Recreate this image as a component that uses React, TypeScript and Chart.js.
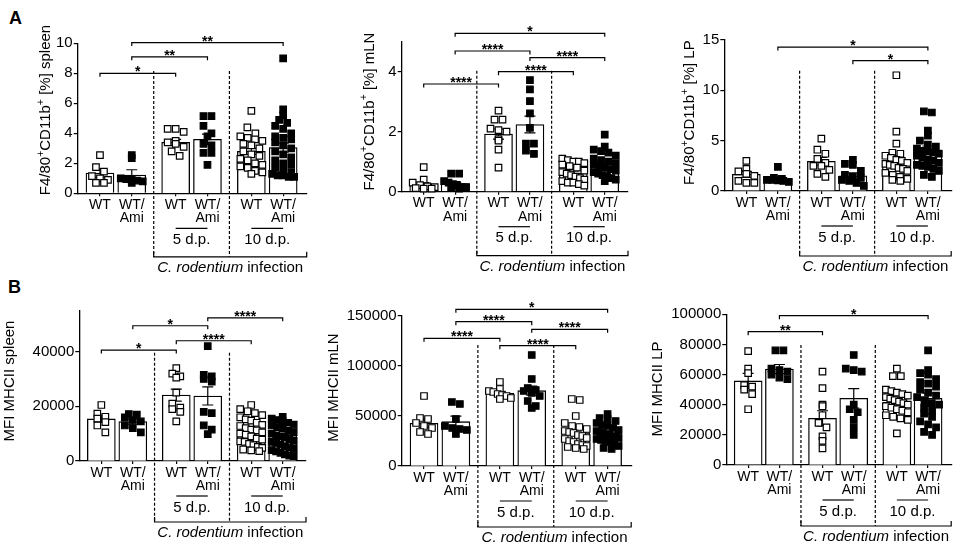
import { useEffect, useRef } from 'react'
import { Chart, registerables } from 'chart.js'

Chart.register(...registerables)

const FONT = '"Liberation Sans", Arial, Helvetica, sans-serif'

// groups: uninfected, 5 d.p., 10 d.p.  (WT open squares, WT/Ami filled)
const categories = ['WT', 'WT/Ami', 'WT', 'WT/Ami', 'WT', 'WT/Ami']
const tickLabels = [['WT'], ['WT/', 'Ami'], ['WT'], ['WT/', 'Ami'], ['WT'], ['WT/', 'Ami']]
const timeLabels = ['5 d.p.', '10 d.p.']
const infectionItalic = 'C. rodentium'
const infectionRest = ' infection'

// A — F4/80+CD11b+ [%]
const a1Points = [
  [2.55, 1.75, 1.45, 1.15, 1.0, 0.9, 0.7, 0.7],
  [2.55, 2.35, 1.0, 0.95, 0.9, 0.85, 0.8, 0.7],
  [4.3, 4.3, 4.1, 3.5, 3.4, 3.3, 3.1, 2.8, 2.5],
  [5.15, 5.15, 4.5, 4.0, 3.8, 3.3, 3.2, 2.7, 2.7, 1.9],
  [5.5, 4.4, 4.0, 3.8, 3.7, 3.6, 3.5, 3.3, 3.2, 3.0, 2.8, 2.6, 2.5, 2.3, 2.2, 2.0, 1.9, 1.8, 1.7, 1.5, 1.4, 1.3],
  [9.0, 5.6, 5.2, 4.9, 4.7, 4.5, 4.3, 4.0, 3.8, 3.7, 3.6, 3.4, 3.2, 3.0, 2.8, 2.6, 2.4, 2.2, 2.0, 1.9, 1.7, 1.5, 1.4, 1.3, 1.2, 1.2, 1.1, 1.1],
]
const a1Means = [1.35, 1.22, 3.4, 3.6, 2.8, 3.05]
const a1Sem = [0.28, 0.35, 0.2, 0.35, 0.2, 0.3]
const a1Ticks = [0, 2, 4, 6, 8, 10]
const a1Sig = [[0, 2, 8.0, '*'], [1, 3, 9.1, '**'], [1, 5, 10.05, '**']]

const a2Points = [
  [0.82, 0.4, 0.3, 0.22, 0.18, 0.15, 0.12, 0.1, 0.1],
  [0.6, 0.6, 0.35, 0.3, 0.25, 0.2, 0.15, 0.15, 0.12, 0.1],
  [2.7, 2.4, 2.4, 2.1, 2.05, 2.0, 1.75, 1.7, 1.4, 0.8],
  [3.72, 3.41, 3.02, 2.61, 2.13, 1.6, 1.6, 1.37, 1.26],
  [1.1, 1.05, 1.0, 1.0, 0.95, 0.9, 0.85, 0.8, 0.7, 0.65, 0.6, 0.55, 0.5, 0.45, 0.4, 0.35, 0.3, 0.3, 0.25, 0.2],
  [1.9, 1.5, 1.4, 1.35, 1.3, 1.2, 1.1, 1.05, 1.0, 0.95, 0.9, 0.85, 0.8, 0.75, 0.7, 0.65, 0.6, 0.55, 0.5, 0.45, 0.4, 0.35],
]
const a2Means = [0.22, 0.27, 1.92, 2.24, 0.62, 0.92]
const a2Sem = [0.08, 0.07, 0.17, 0.28, 0.07, 0.08]
const a2Ticks = [0, 2, 4]
const a2Sig = [[0, 2, 3.59, '****'], [2, 4, 4.0, '****'], [1, 3, 4.69, '****'], [3, 5, 4.47, '****'], [1, 5, 5.28, '*']]

const a3Points = [
  [3.0, 2.2, 1.95, 1.7, 1.5, 1.0, 0.8, 0.8],
  [2.4, 1.3, 1.2, 1.1, 1.1, 1.05, 1.0, 0.9],
  [5.2, 4.1, 3.7, 3.2, 2.8, 2.5, 2.5, 2.1, 1.7, 1.4],
  [3.1, 2.7, 2.6, 2.0, 1.6, 1.4, 1.3, 1.1, 1.0, 0.8, 0.5],
  [11.5, 5.9, 4.7, 3.8, 3.7, 3.5, 3.3, 3.1, 3.0, 2.8, 2.7, 2.6, 2.5, 2.3, 2.2, 2.0, 1.8, 1.6, 1.4, 1.2, 1.1, 1.0],
  [7.9, 7.8, 6.0, 5.5, 5.0, 4.6, 4.4, 4.2, 4.0, 3.9, 3.8, 3.7, 3.5, 3.3, 3.1, 3.0, 2.8, 2.6, 2.5, 2.4, 2.2, 2.0, 1.6, 1.4],
]
const a3Means = [1.65, 1.15, 2.95, 1.5, 3.0, 4.1]
const a3Sem = [0.3, 0.17, 0.38, 0.3, 0.5, 0.37]
const a3Ticks = [0, 5, 10, 15]
const a3Sig = [[1, 5, 14.3, '*'], [3, 5, 12.95, '*']]

// B — MFI MHCII
const b1Points = [
  [20500, 17300, 16200, 15500, 14200, 13000, 10500],
  [17200, 17000, 16000, 15000, 14500, 13000, 12000, 10500],
  [34000, 32000, 31000, 30500, 25000, 21000, 19500, 19000, 18000, 14500],
  [42000, 31500, 31000, 30000, 29000, 18000, 17500, 13000, 11500, 9800],
  [20500, 19000, 18200, 17500, 16800, 16000, 15200, 14800, 14000, 13200, 12800, 12000, 11500, 11200, 10500, 10000, 9600, 9000, 8200, 7800, 7200, 7000, 6300, 5800, 5200, 4800, 4200, 3900, 3600],
  [16200, 15500, 15000, 14600, 14000, 13300, 13000, 12400, 12000, 11000, 10600, 10000, 9400, 9000, 8600, 8000, 7400, 7000, 6600, 6000, 5400, 5000, 4400, 4000, 3500, 3000, 2400, 2000, 1800],
]
const b1Means = [15400, 14400, 24100, 23800, 10700, 9300]
const b1Sem = [1300, 900, 2200, 3300, 900, 800]
const b1Ticks = [0, 20000, 40000]
const b1Sig = [[0, 2, 40600, '*'], [1, 3, 49500, '*'], [2, 4, 44000, '****'], [3, 5, 52400, '****']]

const b2Points = [
  [70000, 48000, 47000, 43000, 40000, 38000, 34000, 32000],
  [64000, 62000, 47000, 40000, 38000, 37000, 36000, 32000],
  [84000, 77000, 75000, 74000, 72000, 71000, 70000, 68000, 67000],
  [111000, 87000, 78000, 76000, 75000, 73000, 70000, 65000, 60000, 58000],
  [67000, 66000, 50000, 43000, 40000, 39000, 37000, 35000, 34000, 33000, 31000, 30000, 28000, 27000, 25000, 24000, 22000, 21000, 20000, 19000, 18000, 17000],
  [52000, 48000, 47000, 45000, 43000, 41000, 40000, 38000, 36000, 35000, 34000, 33000, 32000, 31000, 30000, 29000, 28000, 27000, 26000, 25000, 24000, 22000, 20000, 18000, 17000],
]
const b2Means = [42700, 44300, 72700, 75300, 33300, 32700]
const b2Sem = [4000, 5500, 2000, 4500, 3000, 2000]
const b2Ticks = [0, 50000, 100000, 150000]
const b2Sig = [[0, 2, 127700, '****'], [2, 4, 120300, '****'], [1, 3, 144300, '****'], [3, 5, 136700, '****'], [1, 5, 156700, '*']]

const b3Points = [
  [75500, 64000, 61000, 53000, 52000, 50000, 47000, 37000],
  [76000, 76000, 64000, 63000, 62000, 60000, 58000, 57000],
  [62000, 51000, 40000, 39000, 33000, 28000, 25000, 19000, 16000, 11000],
  [73000, 64000, 63000, 62000, 40000, 37000, 35000, 30000, 25000, 20000],
  [64000, 59000, 59000, 50000, 49000, 48000, 47000, 46000, 45000, 44000, 43000, 42000, 41000, 40000, 39000, 38000, 37000, 36000, 35000, 33000, 32000, 31000, 30000, 21000],
  [76000, 63000, 61000, 60000, 57000, 55000, 54000, 52000, 50000, 48000, 46000, 45000, 43000, 41000, 40000, 38000, 36000, 34000, 32000, 29000, 27000, 25000, 22000, 20000],
]
const b3Means = [55800, 63700, 31000, 44200, 41600, 44200]
const b3Sem = [5000, 3000, 5000, 6500, 2500, 3500]
const b3Ticks = [0, 20000, 40000, 60000, 80000, 100000]
const b3Sig = [[0, 2, 88500, '**'], [1, 5, 99100, '*']]

// bar slots: pairs with a wider gap between the three groups
const GROUP_GAP = 0.38
const positions = categories.map((_, i) => i + Math.floor(i / 2) * GROUP_GAP)
const X_MIN = -0.7
const X_MAX = 6.5
const Y_W = 62
const X_H = 40
const MARK = 8

// box = canvas rect, area = plot rect, titleAt = [baseline x, centre y]  (page px)
const panels = [
  { title: 'F4/80^+CD11b^+ [%] spleen', points: a1Points, means: a1Means, sem: a1Sem, ticks: a1Ticks, yMax: 10, sig: a1Sig, dashTop: 8.15,
    box: [0, 0, 318, 275], area: [77.7, 43.3, 306.7, 193.3], titleAt: [50.1, 110], gap: 63.5 },
  { title: 'F4/80^+CD11b^+ [%] mLN', points: a2Points, means: a2Means, sem: a2Sem, ticks: a2Ticks, yMax: 5, sig: a2Sig, dashTop: 4.03,
    box: [318, 0, 319, 275], area: [401.7, 41.7, 628, 191.7], titleAt: [373.5, 111.5], gap: 64 },
  { title: 'F4/80^+CD11b^+ [%] LP', points: a3Points, means: a3Means, sem: a3Sem, ticks: a3Ticks, yMax: 15, sig: a3Sig, dashTop: 11.95,
    box: [637, 0, 320, 275], area: [724.3, 40, 952, 191], titleAt: [693.8, 112.6], gap: 65 },
  { title: 'MFI MHCII spleen', points: b1Points, means: b1Means, sem: b1Sem, ticks: b1Ticks, yMax: 55000, sig: b1Sig, dashTop: 39600,
    box: [0, 275, 318, 273], area: [79.3, 310.7, 306, 461], titleAt: [13.5, 381], gap: 61 },
  { title: 'MFI MHCII mLN', points: b2Points, means: b2Means, sem: b2Sem, ticks: b2Ticks, yMax: 150000, sig: b2Sig, dashTop: 121000,
    box: [318, 275, 319, 273], area: [401.7, 316, 631.7, 466], titleAt: [338.3, 387.5], gap: 61 },
  { title: 'MFI MHCII LP', points: b3Points, means: b3Means, sem: b3Sem, ticks: b3Ticks, yMax: 100000, sig: b3Sig, dashTop: 79600,
    box: [637, 275, 320, 273], area: [726.3, 314.3, 952, 465], titleAt: [662, 389], gap: 61 },
]

// Prism-like scatter: points in the same row spread side by side
function swarm(vals: number[], center: number, xPx: number, yPx: number) {
  const rows = new Map<number, number[]>()
  vals.forEach(v => {
    const k = Math.round((v * yPx) / MARK)
    if (!rows.has(k)) rows.set(k, [])
    rows.get(k)!.push(v)
  })
  const out: { x: number; y: number }[] = []
  rows.forEach(row => {
    const n = row.length
    const step = n > 1 ? Math.min(MARK, 22 / (n - 1)) : 0
    row.forEach((v, j) => out.push({ x: center + ((j - (n - 1) / 2) * step) / xPx, y: v }))
  })
  return out
}

function drawTitle(ctx: CanvasRenderingContext2D, text: string, bx: number, cy: number) {
  const size = 15
  const parts = text.split('^')
  const segs = [{ t: parts[0], sup: false }]
  parts.slice(1).forEach(s => {
    segs.push({ t: s[0], sup: true })
    if (s.length > 1) segs.push({ t: s.slice(1), sup: false })
  })
  const fontOf = (sup: boolean) => `${sup ? size * 0.7 : size}px ${FONT}`
  let total = 0
  segs.forEach(s => { ctx.font = fontOf(s.sup); total += ctx.measureText(s.t).width })
  ctx.save()
  ctx.translate(bx, cy)
  ctx.rotate(-Math.PI / 2)
  ctx.textAlign = 'left'
  ctx.textBaseline = 'alphabetic'
  let x = -total / 2
  segs.forEach(s => {
    ctx.font = fontOf(s.sup)
    ctx.fillText(s.t, x, s.sup ? -size * 0.42 : 0)
    x += ctx.measureText(s.t).width
  })
  ctx.restore()
}

function Panel({ p }: { p: any }) {
  const ref = useRef<HTMLCanvasElement>(null)

  useEffect(() => {
    if (!ref.current) return
    const existing = Chart.getChart(ref.current)
    if (existing) existing.destroy()

    const [bx, by, bw, bh] = p.box
    const [L, T, R, B] = p.area
    const xPx = (R - L) / (X_MAX - X_MIN)
    const yPx = (B - T) / p.yMax
    const open: any[] = []
    const filled: any[] = []
    p.points.forEach((vals: number[], i: number) => {
      const pts = swarm(vals, positions[i], xPx, yPx)
      if (categories[i].includes('Ami')) filled.push(...pts)
      else open.push(...pts)
    })

    const deco = {
      id: 'deco',
      afterDatasetDraw(chart: any, args: any) {
        if (args.index !== 0) return
        const { ctx, scales: { x, y } } = chart
        ctx.save()
        ctx.strokeStyle = '#000'
        ctx.lineWidth = 1.2
        p.means.forEach((m: number, i: number) => {
          const cx = x.getPixelForValue(positions[i])
          const t = y.getPixelForValue(m + p.sem[i])
          const b = y.getPixelForValue(Math.max(0, m - p.sem[i]))
          ctx.beginPath()
          ctx.moveTo(cx, t); ctx.lineTo(cx, b)
          ctx.moveTo(cx - 5.5, t); ctx.lineTo(cx + 5.5, t)
          ctx.moveTo(cx - 5.5, b); ctx.lineTo(cx + 5.5, b)
          ctx.stroke()
        })
        ctx.restore()
      },
      afterDraw(chart: any) {
        const { ctx, chartArea: ca, scales: { x, y } } = chart
        ctx.save()
        ctx.strokeStyle = '#000'
        ctx.fillStyle = '#000'
        ctx.lineWidth = 1.2

        // dashed separators between groups
        const sep = [(positions[1] + positions[2]) / 2, (positions[3] + positions[4]) / 2].map(v => x.getPixelForValue(v))
        const brY = ca.bottom + p.gap
        ctx.setLineDash([3, 2])
        sep.forEach(sx => {
          ctx.beginPath()
          ctx.moveTo(sx, y.getPixelForValue(p.dashTop))
          ctx.lineTo(sx, brY)
          ctx.stroke()
        })
        ctx.setLineDash([])

        // infection bracket
        ctx.beginPath()
        ctx.moveTo(sep[0], brY - 5)
        ctx.lineTo(sep[0], brY)
        ctx.lineTo(ca.right, brY)
        ctx.lineTo(ca.right, brY - 5)
        ctx.stroke()
        ctx.textBaseline = 'alphabetic'
        ctx.textAlign = 'left'
        ctx.font = `italic 15px ${FONT}`
        const w1 = ctx.measureText(infectionItalic).width
        ctx.font = `15px ${FONT}`
        const w2 = ctx.measureText(infectionRest).width
        const tx = (sep[0] + ca.right) / 2 - (w1 + w2) / 2
        ctx.font = `italic 15px ${FONT}`
        ctx.fillText(infectionItalic, tx, brY + 15)
        ctx.font = `15px ${FONT}`
        ctx.fillText(infectionRest, tx + w1, brY + 15)

        // time point labels
        ctx.textAlign = 'center'
        timeLabels.forEach((lab, k) => {
          const x1 = x.getPixelForValue(positions[2 + 2 * k])
          const x2 = x.getPixelForValue(positions[3 + 2 * k])
          const ly = ca.bottom + 35
          ctx.beginPath()
          ctx.moveTo(x1, ly)
          ctx.lineTo(x2, ly)
          ctx.stroke()
          ctx.fillText(lab, (x1 + x2) / 2, ly + 15.5)
        })

        // significance brackets
        ctx.font = `bold 14px ${FONT}`
        p.sig.forEach(([a, b, lvl, lab]: any) => {
          const x1 = x.getPixelForValue(positions[a])
          const x2 = x.getPixelForValue(positions[b])
          const yy = y.getPixelForValue(lvl)
          ctx.beginPath()
          ctx.moveTo(x1, yy + 3.5)
          ctx.lineTo(x1, yy)
          ctx.lineTo(x2, yy)
          ctx.lineTo(x2, yy + 3.5)
          ctx.stroke()
          ctx.fillText(lab, (x1 + x2) / 2, yy + 3)
        })

        drawTitle(ctx, p.title, p.titleAt[0] - bx, p.titleAt[1] - by)
        ctx.restore()
      },
    }

    const chart = new Chart(ref.current, {
      type: 'scatter',
      data: {
        datasets: [
          { type: 'bar', data: p.means.map((m: number, i: number) => ({ x: positions[i], y: m })), backgroundColor: '#fff', borderColor: '#000', borderWidth: 1.3, barThickness: 28, grouped: false, order: 2 },
          { data: open, pointStyle: 'rect', pointRadius: 4.6, pointBackgroundColor: '#fff', pointBorderColor: '#000', pointBorderWidth: 1.2, order: 1, clip: false },
          { data: filled, pointStyle: 'rect', pointRadius: 4.6, pointBackgroundColor: '#000', pointBorderColor: '#000', pointBorderWidth: 1.2, order: 1, clip: false },
        ],
      } as any,
      options: {
        animation: false,
        responsive: true,
        maintainAspectRatio: false,
        events: [],
        layout: { padding: { left: L - bx - Y_W, top: T - by, right: bx + bw - R, bottom: by + bh - B - X_H } },
        plugins: { legend: { display: false }, tooltip: { enabled: false } },
        scales: {
          x: {
            type: 'linear', min: X_MIN, max: X_MAX, offset: false,
            afterBuildTicks: (s: any) => { s.ticks = positions.map(v => ({ value: v })) },
            afterFit: (s: any) => { s.height = X_H },
            grid: { display: true, offset: false, drawOnChartArea: false, drawTicks: true, tickLength: 3, color: '#000', tickColor: '#000', lineWidth: 1.2, tickWidth: 1.2 },
            border: { display: true, color: '#000', width: 1.3 },
            ticks: { autoSkip: false, maxRotation: 0, minRotation: 0, padding: 2, color: '#000', font: { family: FONT, size: 14, lineHeight: 0.95 }, callback: (_v: any, i: number) => tickLabels[i] },
          },
          y: {
            type: 'linear', min: 0, max: p.yMax,
            afterBuildTicks: (s: any) => { s.ticks = p.ticks.map((v: number) => ({ value: v })) },
            afterFit: (s: any) => { s.width = Y_W },
            grid: { display: true, drawOnChartArea: false, drawTicks: true, tickLength: 4, color: '#000', tickColor: '#000', lineWidth: 1.2, tickWidth: 1.2 },
            border: { display: true, color: '#000', width: 1.3 },
            ticks: { padding: 1, color: '#000', font: { family: FONT, size: 15 }, callback: (v: any) => String(v) },
          },
        },
      } as any,
      plugins: [deco],
    })

    return () => { chart.destroy() }
  }, [p])

  const [bx, by, bw, bh] = p.box
  return (
    <div style={{ position: 'absolute', left: bx, top: by, width: bw, height: bh }}>
      <canvas ref={ref} />
    </div>
  )
}

export default function App() {
  const letter = { position: 'absolute' as const, fontFamily: FONT, fontWeight: 'bold', fontSize: 18, lineHeight: 1, color: '#000' }
  return (
    <div style={{ position: 'fixed', left: 0, top: 0, width: 957, height: 548, background: '#fff', overflow: 'hidden' }}>
      <div style={{ ...letter, left: 9, top: 8.7 }}>A</div>
      <div style={{ ...letter, left: 8, top: 277.7 }}>B</div>
      {panels.map((p, i) => <Panel key={i} p={p} />)}
    </div>
  )
}
